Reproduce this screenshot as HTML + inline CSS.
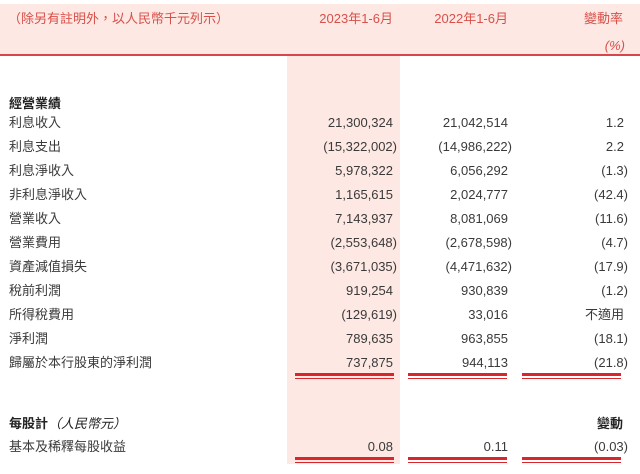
<!DOCTYPE html>
<html><head><meta charset="utf-8"><style>
body{margin:0;width:640px;height:474px;background:#fff;position:relative;overflow:hidden;font-family:"Liberation Sans","Noto Sans CJK TC",sans-serif;font-size:13px;line-height:16px;color:#3a3a3a}
.a{position:absolute;white-space:nowrap;line-height:16px}
.r{text-align:right}
.h{color:#d8504a}
.ln{position:absolute;height:3px;background:#d9262b}
.ln2{position:absolute;height:1px;background:#d9262b}
</style></head><body>
<div class="a" style="left:0;top:4px;width:640px;height:50px;background:#fde8e3"></div>
<div class="a" style="left:0;top:54px;width:640px;height:2px;background:#d6464a"></div>
<div class="a" style="left:287px;top:56px;width:113px;height:408px;background:#fde8e3"></div>
<div class="a h" style="left:8px;top:11px">（除另有註明外，以人民幣千元列示）</div>
<div class="a h r" style="left:290px;top:11px;width:103px">2023年1-6月</div>
<div class="a h r" style="left:405px;top:11px;width:103px">2022年1-6月</div>
<div class="a h r" style="left:520px;top:11px;width:103px">變動率</div>
<div class="a h r" style="left:520px;top:38px;width:105px;font-style:italic">(%)</div>
<div class="a" style="left:9px;top:96px;font-weight:bold;color:#222">經營業績</div>
<div id="rows"></div>
<div class="a" style="left:9px;top:416px;font-weight:bold;color:#222">每股計<span style="font-weight:normal;font-style:italic">（人民幣元）</span></div>
<div class="a r" style="left:520px;top:416px;width:103px;font-weight:bold;color:#222">變動</div>
<script>
var d=[["利息收入","21,300,324","21,042,514","1.2"],["利息支出","(15,322,002)","(14,986,222)","2.2"],["利息淨收入","5,978,322","6,056,292","(1.3)"],["非利息淨收入","1,165,615","2,024,777","(42.4)"],["營業收入","7,143,937","8,081,069","(11.6)"],["營業費用","(2,553,648)","(2,678,598)","(4.7)"],["資產減值損失","(3,671,035)","(4,471,632)","(17.9)"],["稅前利潤","919,254","930,839","(1.2)"],["所得稅費用","(129,619)","33,016","不適用"],["淨利潤","789,635","963,855","(18.1)"],["歸屬於本行股東的淨利潤","737,875","944,113","(21.8)"],["基本及稀釋每股收益","0.08","0.11","(0.03)"]];
var h="";
d.forEach(function(r,i){var t=i<11?115+i*24:439;
h+='<div class="a" style="left:9px;top:'+t+'px">'+r[0]+'</div>';
var rt=[393,508,624];
for(var k=1;k<4;k++){var p=(r[k].charAt(r[k].length-1)==")")?4:0;
h+='<div class="a r" style="left:'+(rt[k-1]-150+p)+'px;top:'+t+'px;width:150px">'+r[k]+'</div>';}
});
[[373],[457]].forEach(function(y){[[295,99],[408,99],[522,99]].forEach(function(c){
h+='<div class="ln" style="left:'+c[0]+'px;top:'+y[0]+'px;width:'+c[1]+'px"></div><div class="ln2" style="left:'+c[0]+'px;top:'+(y[0]+5)+'px;width:'+c[1]+'px"></div>';});});
document.getElementById("rows").outerHTML=h;
</script>
</body></html>
